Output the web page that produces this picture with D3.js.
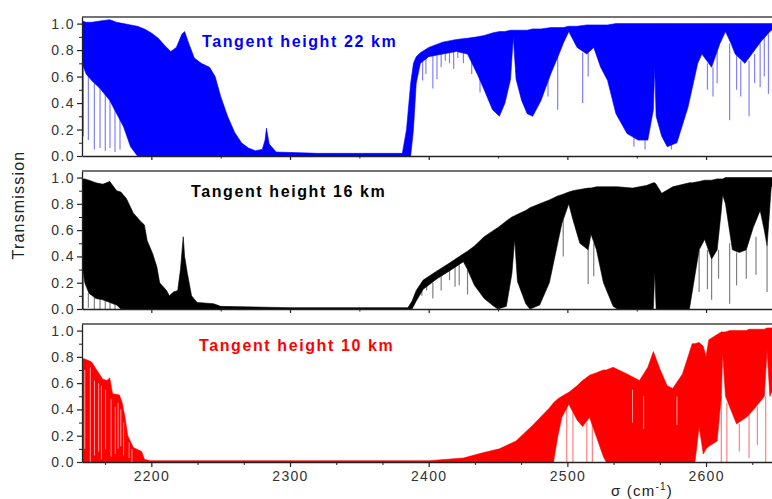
<!DOCTYPE html>
<html>
<head>
<meta charset="utf-8">
<script src="https://cdn.jsdelivr.net/npm/d3@7"></script>
<style>
  body { margin: 0; background: #fff; }
  svg { display: block; font-family: Arial, "Liberation Sans", sans-serif; }
</style>
</head>
<body>
<svg id="chart" width="772" height="499"></svg>
<script>
// ===== DATA =====
// Panel titles
const titles = ['Tangent height 22 km', 'Tangent height 16 km', 'Tangent height 10 km'];

// Tick labels
const yTicks = [0, 0.2, 0.4, 0.6, 0.8, 1.0];
const yMinor = [0.1, 0.3, 0.5, 0.7, 0.9];
const xTicks = [2200, 2300, 2400, 2500, 2600];
const xMinorTop = [2250, 2350, 2450, 2550, 2650];

// 22 km: wavenumber, upper envelope, lower envelope of the dense line forest
const wn22 = [2150, 2153, 2157, 2163, 2170, 2175, 2180, 2185, 2190, 2195, 2200, 2205, 2210, 2214, 2218, 2222, 2224, 2227, 2231, 2236,
  2242, 2246, 2250, 2255, 2260, 2265, 2270, 2275, 2280, 2282, 2283, 2285, 2290, 2320, 2350, 2381, 2384, 2387, 2389, 2391,
  2394, 2400, 2410, 2420, 2428, 2435, 2440, 2446, 2451, 2455, 2459, 2461, 2463, 2467, 2471, 2475, 2481, 2488, 2494, 2497,
  2501, 2507, 2514, 2519, 2524, 2529, 2535, 2543, 2551, 2558, 2562, 2563, 2564, 2568, 2572, 2579, 2587, 2594, 2597, 2604,
  2610, 2614, 2618, 2621, 2628, 2633, 2640, 2647, 2650];
const up22 = [1.02, 1.01, 1.01, 1.02, 1.03, 1.01, 1.00, 0.99, 0.98, 0.96, 0.93, 0.89, 0.83, 0.79, 0.82, 0.92, 0.94, 0.85, 0.74, 0.70,
  0.67, 0.60, 0.45, 0.30, 0.18, 0.10, 0.06, 0.04, 0.05, 0.12, 0.21, 0.09, 0.03, 0.02, 0.02, 0.02, 0.20, 0.55, 0.70, 0.75,
  0.78, 0.82, 0.86, 0.88, 0.89, 0.90, 0.91, 0.93, 0.94, 0.94, 0.95, 0.95, 0.95, 0.95, 0.95, 0.96, 0.96, 0.97, 0.97, 0.97,
  0.98, 0.98, 0.99, 0.99, 0.99, 0.99, 1.00, 1.00, 1.00, 1.00, 1.00, 1.00, 1.00, 1.00, 1.00, 1.00, 1.00, 1.00, 1.00, 1.00,
  1.00, 1.00, 1.00, 1.00, 1.00, 1.00, 1.00, 1.00, 1.00];
const lo22 = [0.70, 0.62, 0.57, 0.51, 0.42, 0.32, 0.22, 0.07, 0, 0, 0, 0, 0, 0, 0, 0, 0, 0, 0, 0,
  0, 0, 0, 0, 0, 0, 0, 0, 0, 0, 0, 0, 0, 0, 0, 0, 0, 0, 0.20, 0.55,
  0.70, 0.75, 0.77, 0.79, 0.77, 0.62, 0.50, 0.35, 0.30, 0.40, 0.58, 0.90, 0.58, 0.42, 0.32, 0.30, 0.42, 0.62, 0.77, 0.85,
  0.94, 0.82, 0.77, 0.82, 0.67, 0.57, 0.32, 0.17, 0.12, 0.12, 0.35, 0.67, 0.30, 0.15, 0.07, 0.10, 0.37, 0.70, 0.77, 0.67,
  0.85, 0.94, 0.85, 0.77, 0.70, 0.77, 0.87, 0.95, 0.95];
// 22 km: single deep lines (wavenumber, top, bottom)
const spikeWn22 = [2151, 2154.6, 2158.9, 2163, 2166.8, 2170.2, 2173.8, 2177.4, 2395.6, 2398, 2403, 2406, 2409, 2412,
  2415, 2418, 2421, 2425, 2431, 2437, 2486, 2493, 2511, 2515, 2548, 2556, 2575, 2601, 2605, 2608, 2617, 2622, 2625,
  2631, 2635, 2639, 2642, 2645, 2648];
const spikeTop22 = [0.70, 0.62, 0.57, 0.51, 0.47, 0.42, 0.37, 0.28, 0.74, 0.74, 0.76, 0.76, 0.77, 0.78,
  0.78, 0.79, 0.79, 0.78, 0.72, 0.58, 0.57, 0.75, 0.78, 0.78, 0.15, 0.12, 0.09, 0.70, 0.67, 0.80, 0.85, 0.76, 0.72,
  0.72, 0.77, 0.85, 0.90, 0.92, 0.95];
const spikeBot22 = [0.15, 0.12, 0.05, 0.06, 0.04, 0.06, 0.03, 0.05, 0.57, 0.62, 0.51, 0.58, 0.67, 0.72,
  0.70, 0.66, 0.74, 0.70, 0.62, 0.48, 0.45, 0.35, 0.40, 0.60, 0.07, 0.05, 0.05, 0.50, 0.45, 0.55, 0.27, 0.50, 0.45,
  0.30, 0.55, 0.52, 0.60, 0.47, 0.75];

// 16 km
const wn16 = [2150, 2152, 2155, 2160, 2165, 2170, 2175, 2178, 2182, 2187, 2192, 2195, 2197, 2201, 2204, 2206, 2211, 2213, 2216, 2219,
  2221, 2223, 2224, 2226, 2229, 2233, 2245, 2250, 2300, 2385, 2388, 2391, 2396, 2406, 2415, 2425, 2428, 2433, 2440, 2447,
  2450, 2456, 2460, 2462, 2464, 2470, 2473, 2480, 2487, 2493, 2496, 2501, 2504, 2509, 2515, 2517, 2521, 2526, 2533, 2536,
  2547, 2557, 2562, 2563, 2564, 2568, 2576, 2588, 2590, 2595, 2599, 2604, 2608, 2611, 2612, 2614, 2619, 2624, 2629, 2634,
  2639, 2642, 2644, 2647, 2650];
const up16 = [0.99, 0.99, 0.98, 0.96, 0.95, 0.97, 0.90, 0.89, 0.84, 0.73, 0.67, 0.64, 0.52, 0.42, 0.32, 0.20, 0.14, 0.10, 0.13, 0.14,
  0.30, 0.55, 0.40, 0.27, 0.10, 0.05, 0.04, 0.02, 0.01, 0.01, 0.06, 0.14, 0.22, 0.29, 0.35, 0.42, 0.44, 0.48, 0.55, 0.60,
  0.62, 0.67, 0.70, 0.71, 0.72, 0.75, 0.77, 0.80, 0.83, 0.86, 0.87, 0.89, 0.90, 0.91, 0.92, 0.92, 0.93, 0.93, 0.93, 0.93,
  0.92, 0.94, 0.96, 0.96, 0.95, 0.88, 0.93, 0.96, 0.96, 0.97, 0.98, 0.98, 0.99, 0.99, 0.99, 1.00, 1.00, 1.00, 1.00, 1.00,
  1.00, 1.00, 1.00, 1.00, 1.00];
const lo16 = [0.35, 0.20, 0.12, 0.08, 0.07, 0.05, 0.03, 0, 0, 0, 0, 0, 0, 0, 0, 0, 0, 0, 0, 0,
  0, 0, 0, 0, 0, 0, 0, 0, 0, 0, 0, 0.06, 0.15, 0.23, 0.29, 0.36, 0.30, 0.18, 0.08, 0.02,
  0, 0.02, 0.27, 0.53, 0.21, 0.04, 0, 0.03, 0.20, 0.50, 0.65, 0.80, 0.68, 0.50, 0.45, 0.57, 0.45, 0.20, 0.02, 0,
  0, 0, 0, 0.29, 0, 0, 0, 0, 0.13, 0.45, 0.53, 0.38, 0.45, 0.75, 0.87, 0.80, 0.45, 0.43, 0.45, 0.62,
  0.75, 0.60, 0.48, 0.93, 0.93];
const spikeWn16 = [2151, 2154.6, 2158.9, 2163, 2166.8, 2170.2, 2173.8, 2395, 2398.5, 2403, 2409, 2415, 2419, 2422, 2428,
  2497, 2515, 2519, 2595, 2601, 2604, 2609, 2617, 2622, 2629, 2636, 2644];
const spikeTop16 = [0.30, 0.12, 0.09, 0.08, 0.07, 0.05, 0.04, 0.15, 0.18, 0.20, 0.25, 0.29, 0.32, 0.34, 0.30,
  0.68, 0.45, 0.50, 0.45, 0.45, 0.38, 0.45, 0.50, 0.43, 0.45, 0.55, 0.48];
const spikeBot16 = [0, 0.01, 0, 0, 0, 0, 0, 0.10, 0.14, 0.08, 0.14, 0.22, 0.17, 0.18, 0.11,
  0.40, 0.19, 0.25, 0.13, 0.15, 0.07, 0.23, 0.04, 0.18, 0.23, 0.26, 0.13];

// 10 km
const wn10 = [2150, 2153, 2157, 2160, 2165, 2168, 2170, 2172, 2177, 2179, 2181, 2183, 2187, 2191, 2193, 2195, 2199, 2300, 2400, 2425,
  2439, 2451, 2463, 2475, 2487, 2490, 2493, 2496, 2501, 2507, 2511, 2516, 2521, 2526, 2528, 2533, 2543, 2552, 2558, 2562,
  2567, 2572, 2576, 2583, 2590, 2592, 2595, 2598, 2600, 2602, 2608, 2611, 2612, 2614, 2617, 2622, 2629, 2631, 2636, 2642,
  2644, 2646, 2650];
const up10 = [0.79, 0.78, 0.76, 0.71, 0.63, 0.62, 0.64, 0.52, 0.51, 0.45, 0.34, 0.20, 0.11, 0.09, 0.08, 0.02, 0.01, 0.01, 0.01, 0.03,
  0.07, 0.10, 0.16, 0.28, 0.41, 0.45, 0.48, 0.50, 0.53, 0.58, 0.62, 0.66, 0.68, 0.70, 0.70, 0.72, 0.67, 0.62, 0.72, 0.84,
  0.70, 0.58, 0.56, 0.67, 0.90, 0.90, 0.91, 0.88, 0.80, 0.93, 0.97, 0.99, 0.99, 0.99, 1.00, 1.00, 1.00, 1.01, 1.01, 1.01,
  1.02, 1.02, 1.02];
const lo10 = [0, 0, 0, 0, 0, 0, 0, 0, 0, 0, 0, 0, 0, 0, 0, 0, 0, 0, 0, 0,
  0, 0, 0, 0, 0, 0, 0.19, 0.34, 0.44, 0.32, 0.27, 0.34, 0.19, 0.04, 0, 0, 0, 0, 0, 0,
  0, 0, 0, 0, 0, 0, 0.27, 0.06, 0.10, 0.12, 0.16, 0.50, 0.83, 0.50, 0.42, 0.29, 0.34, 0.36, 0.42, 0.50,
  0.85, 0.50, 0.60];
const spikeWn10 = [2499.5, 2504, 2514, 2518, 2611, 2615, 2624, 2631, 2637, 2643];
const spikeTop10 = [0.44, 0.38, 0.30, 0.30, 0.50, 0.45, 0.29, 0.36, 0.42, 0.50];
const spikeBot10 = [0, 0, 0, 0, 0, 0, 0.08, 0.03, 0.13, 0];
// 10 km: white gaps between lines
const gapWn10 = [2152, 2156, 2159, 2162, 2164, 2167, 2171, 2174, 2176, 2178, 2180, 2184, 2186, 2547, 2555, 2579];
const gapTop10 = [0.70, 0.72, 0.62, 0.60, 0.58, 0.55, 0.48, 0.42, 0.45, 0.40, 0.30, 0.15, 0.10, 0.55, 0.50, 0.50];
const gapBot10 = [0.10, 0, 0.05, 0.08, 0.02, 0.10, 0.04, 0.06, 0.10, 0.12, 0.05, 0.03, 0, 0.30, 0.25, 0.28];

// ===== LAYOUT =====
const panels = [
    {wn: wn22, up: up22, lo: lo22, sw: spikeWn22, st: spikeTop22, sb: spikeBot22, color: '#0000ff',
        title: titles[0], top: 17, bottom: 156, tx: 202, ty: 47},
    {wn: wn16, up: up16, lo: lo16, sw: spikeWn16, st: spikeTop16, sb: spikeBot16, color: '#000000',
        title: titles[1], top: 171, bottom: 309, tx: 191, ty: 197},
    {wn: wn10, up: up10, lo: lo10, sw: spikeWn10, st: spikeTop10, sb: spikeBot10, color: '#ff0000',
        title: titles[2], top: 324, bottom: 462, tx: 199, ty: 351,
        gw: gapWn10, gt: gapTop10, gb: gapBot10}
];

const svg = d3.select('#chart');
const left = 82;

// X scale shared by all panels (right end runs past the window)
const xScale = d3.scaleLinear()
    .domain([2150, 2650])
    .range([left, 775.4]);

const xMinorBottom = d3.range(0, 15)
    .map(k => 2166.667 + k * 100 / 3)
    .filter(v => Math.abs(v / 100 - Math.round(v / 100)) > 0.01);

panels.forEach((p, i) => {
    const yScale = d3.scaleLinear()
        .domain([0, 1.05])
        .range([p.bottom, p.top]);

    // Clip for the spectrum
    svg.append('clipPath').attr('id', 'clip' + i)
        .append('rect')
        .attr('x', left).attr('y', p.top)
        .attr('width', 772 - left).attr('height', p.bottom - p.top);

    const plot = svg.append('g').attr('clip-path', `url(#clip${i})`);

    // Dense line forest as a band between envelopes
    const rows = p.wn.map((w, k) => ({w: w, up: p.up[k], lo: p.lo[k]}));
    plot.append('path')
        .datum(rows)
        .attr('fill', p.color)
        .attr('stroke', p.color)
        .attr('stroke-width', 0.6)
        .attr('stroke-linejoin', 'round')
        .attr('d', d3.area()
            .x(d => xScale(d.w))
            .y0(d => yScale(d.lo))
            .y1(d => yScale(d.up)));

    // Single deep lines
    plot.selectAll('.spike')
        .data(p.sw.map((w, k) => ({w: w, t: p.st[k], b: p.sb[k]})))
        .enter()
        .append('line')
        .attr('x1', d => xScale(d.w)).attr('x2', d => xScale(d.w))
        .attr('y1', d => yScale(d.t)).attr('y2', d => yScale(d.b))
        .attr('stroke', p.color)
        .attr('stroke-opacity', 0.5)
        .attr('stroke-width', 1.2);

    // White gaps between lines
    if (p.gw) {
        plot.selectAll('.gap')
            .data(p.gw.map((w, k) => ({w: w, t: p.gt[k], b: p.gb[k]})))
            .enter()
            .append('line')
            .attr('x1', d => xScale(d.w)).attr('x2', d => xScale(d.w))
            .attr('y1', d => yScale(d.t)).attr('y2', d => yScale(d.b))
            .attr('stroke', '#fff')
            .attr('stroke-opacity', 0.6)
            .attr('stroke-width', 1);
    }

    // Top frame line
    svg.append('line')
        .attr('x1', left).attr('x2', 772)
        .attr('y1', p.top).attr('y2', p.top)
        .attr('stroke', '#444')
        .attr('stroke-width', 1.5);

    // Y axis
    const yAxis = svg.append('g')
        .attr('transform', `translate(${left},0)`)
        .call(d3.axisLeft(yScale)
            .tickValues(yTicks)
            .tickSize(5)
            .tickSizeOuter(0)
            .tickPadding(2)
            .tickFormat(d3.format('.1f')));
    yAxis.select('.domain').attr('stroke', '#222').attr('stroke-width', 1.3);
    yAxis.selectAll('.tick line').attr('stroke', '#222').attr('stroke-width', 1.2);
    yAxis.selectAll('text')
        .attr('fill', '#333')
        .style('font-size', '14px')
        .style('letter-spacing', '1.4px');

    svg.append('g')
        .attr('transform', `translate(${left},0)`)
        .call(d3.axisLeft(yScale).tickValues(yMinor).tickSize(3).tickFormat(''))
        .call(g => g.select('.domain').remove())
        .selectAll('.tick line').attr('stroke', '#222');

    // X axis
    const last = i === panels.length - 1;
    const xAxis = svg.append('g')
        .attr('transform', `translate(0,${p.bottom})`)
        .call(d3.axisBottom(xScale)
            .tickValues(xTicks)
            .tickSize(last ? 5 : 4)
            .tickSizeOuter(0)
            .tickPadding(4)
            .tickFormat(last ? d3.format('d') : ''));
    xAxis.select('.domain').attr('stroke', '#222').attr('stroke-width', 1.5);
    xAxis.selectAll('.tick line').attr('stroke', '#222').attr('stroke-width', 1.2);
    xAxis.selectAll('text')
        .attr('fill', '#333')
        .style('font-size', '14px')
        .style('letter-spacing', '1.3px');

    svg.append('g')
        .attr('transform', `translate(0,${p.bottom})`)
        .call(d3.axisBottom(xScale).tickValues(last ? xMinorBottom : xMinorTop).tickSize(last ? 3 : 2.5).tickFormat(''))
        .call(g => g.select('.domain').remove())
        .selectAll('.tick line').attr('stroke', '#222');

    // Panel title
    svg.append('text')
        .attr('x', p.tx)
        .attr('y', p.ty)
        .attr('fill', p.color)
        .style('font-size', '16px')
        .style('font-weight', 'bold')
        .style('letter-spacing', '1.6px')
        .text(p.title);
});

// Axis titles
svg.append('text')
    .attr('transform', 'translate(24,205) rotate(-90)')
    .attr('text-anchor', 'middle')
    .attr('fill', '#222')
    .style('font-size', '16px')
    .style('letter-spacing', '1.2px')
    .text('Transmission');

const xTitle = svg.append('text')
    .attr('x', 642)
    .attr('y', 496)
    .attr('text-anchor', 'middle')
    .attr('fill', '#222')
    .style('font-size', '15px')
    .style('letter-spacing', '1.2px');
xTitle.append('tspan').text('σ (cm');
xTitle.append('tspan').attr('dy', -6).style('font-size', '10px').text('-1');
xTitle.append('tspan').attr('dy', 6).text(')');
</script>
</body>
</html>
